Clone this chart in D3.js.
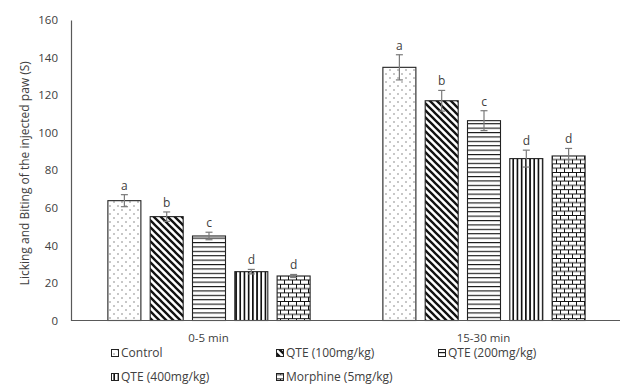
<!DOCTYPE html>
<html>
<head>
<meta charset="utf-8">
<script src="https://cdn.jsdelivr.net/npm/d3@7"></script>
<style>
  body { margin: 0; background: #fff; }
  svg text { font-family: "Open Sans", "Liberation Sans", Arial, sans-serif; fill: #404040; }
</style>
</head>
<body>
<svg id="chart" width="620" height="388"></svg>
<script>
// Time windows and treatments
const groups = ["0-5 min", "15-30 min"];
const treatments = ["Control", "QTE (100mg/kg)", "QTE (200mg/kg)", "QTE (400mg/kg)", "Morphine (5mg/kg)"];

// Mean licking/biting time (s) and SEM per treatment
const earlyPhase = [63.8, 55.3, 45.0, 26.0, 23.7];
const latePhase = [134.8, 117.0, 106.4, 86.2, 87.6];
const earlyErr = [3.2, 2.5, 2.0, 1.2, 0.8];
const lateErr = [6.7, 5.5, 5.3, 4.5, 4.0];
const earlyLetters = ["a", "b", "c", "d", "d"];
const lateLetters = ["a", "b", "c", "d", "d"];

const yTicks = [0, 20, 40, 60, 80, 100, 120, 140, 160];

const svg = d3.select("#chart");
const plotL = 71, plotR = 621, plotT = 20, plotB = 320.5;
const fontFamily = "'Open Sans', 'Liberation Sans', Arial, sans-serif";

// Fill patterns for each treatment
const defs = svg.append("defs");
const ink = "#111";

const pDots = defs.append("pattern").attr("id", "p0").attr("patternUnits", "userSpaceOnUse")
  .attr("width", 8).attr("height", 8);
pDots.append("rect").attr("width", 8).attr("height", 8).attr("fill", "#fff");
pDots.append("rect").attr("x", 1.5).attr("y", 1.5).attr("width", 1).attr("height", 1).attr("fill", "#222");
pDots.append("rect").attr("x", 5.5).attr("y", 5.5).attr("width", 1).attr("height", 1).attr("fill", "#222");

const pDiag = defs.append("pattern").attr("id", "p1").attr("patternUnits", "userSpaceOnUse")
  .attr("width", 7).attr("height", 7);
pDiag.append("rect").attr("width", 7).attr("height", 7).attr("fill", "#fff");
pDiag.append("path").attr("d", "M0,0L7,7M-2,5L2,9M5,-2L9,2")
  .attr("stroke", ink).attr("stroke-width", 2.3);

const pHor = defs.append("pattern").attr("id", "p2").attr("patternUnits", "userSpaceOnUse")
  .attr("width", 6).attr("height", 4.4);
pHor.append("rect").attr("width", 6).attr("height", 4.4).attr("fill", "#fff");
pHor.append("rect").attr("x", 0).attr("y", 0).attr("width", 6).attr("height", 1.1).attr("fill", ink);

const pVer = defs.append("pattern").attr("id", "p3").attr("patternUnits", "userSpaceOnUse")
  .attr("width", 4.2).attr("height", 6);
pVer.append("rect").attr("width", 4.2).attr("height", 6).attr("fill", "#fff");
pVer.append("rect").attr("x", 0).attr("y", 0).attr("width", 1.7).attr("height", 6).attr("fill", ink);

const pBrick = defs.append("pattern").attr("id", "p4").attr("patternUnits", "userSpaceOnUse")
  .attr("width", 8).attr("height", 8.6);
pBrick.append("rect").attr("width", 8).attr("height", 8.6).attr("fill", "#fff");
pBrick.append("path").attr("d", "M0,0.5H8M0,4.8H8M0.5,0.5V4.8M4.5,4.8V8.6")
  .attr("stroke", ink).attr("stroke-width", 1);

// Scales
const x0 = d3.scaleBand().domain(groups).range([plotL, plotR]).padding(0);
const x1 = d3.scaleBand().domain(treatments).range([0, x0.bandwidth()])
  .paddingInner(0.22).paddingOuter(0.86);
const y = d3.scaleLinear().domain([0, 160]).range([plotB, plotT]);

// Y axis: labels only plus a vertical line
const yAxis = svg.append("g").attr("transform", `translate(${plotL},0)`)
  .call(d3.axisLeft(y).tickValues(yTicks).tickSize(0).tickPadding(13));
yAxis.select(".domain").attr("stroke", "#595959").attr("stroke-width", 1.2);
yAxis.selectAll("text").style("font-size", "11.5px").attr("fill", "#404040")
  .style("font-family", fontFamily);

svg.append("text")
  .attr("transform", `translate(29,${(plotT + plotB) / 2 + 3}) rotate(-90)`)
  .attr("text-anchor", "middle")
  .style("font-size", "12px")
  .text("Licking and Biting of the injected paw (S)");

// Bars
const rows = [];
groups.forEach((g, gi) => {
  const vals = gi === 0 ? earlyPhase : latePhase;
  const errs = gi === 0 ? earlyErr : lateErr;
  const lets = gi === 0 ? earlyLetters : lateLetters;
  treatments.forEach((t, ti) => rows.push({ g, t, ti, v: vals[ti], e: errs[ti], l: lets[ti] }));
});

const bars = svg.append("g");
bars.selectAll("rect").data(rows).join("rect")
  .attr("x", d => x0(d.g) + x1(d.t) + 0.5)
  .attr("y", d => y(d.v))
  .attr("width", x1.bandwidth())
  .attr("height", d => y(0) - y(d.v))
  .attr("fill", d => `url(#p${d.ti})`)
  .attr("stroke", "#222")
  .attr("stroke-width", 1.1);

// Error bars
const eb = svg.append("g").attr("stroke", "#7a7a7a").attr("stroke-width", 1.2);
rows.forEach(d => {
  const cx = x0(d.g) + x1(d.t) + x1.bandwidth() / 2 + 0.5;
  eb.append("line").attr("x1", cx).attr("x2", cx).attr("y1", y(d.v + d.e)).attr("y2", y(d.v - d.e));
  eb.append("line").attr("x1", cx - 3.5).attr("x2", cx + 3.5).attr("y1", y(d.v + d.e)).attr("y2", y(d.v + d.e));
  eb.append("line").attr("x1", cx - 3.5).attr("x2", cx + 3.5).attr("y1", y(d.v - d.e)).attr("y2", y(d.v - d.e));
});

// Significance letters
svg.append("g").selectAll("text").data(rows).join("text")
  .attr("x", d => x0(d.g) + x1(d.t) + x1.bandwidth() / 2 + 0.5)
  .attr("y", d => y(d.v + d.e) - 5)
  .attr("text-anchor", "middle")
  .style("font-size", "12px")
  .text(d => d.l);

// X axis line and group labels
svg.append("line").attr("x1", plotL).attr("x2", 620).attr("y1", plotB).attr("y2", plotB)
  .attr("stroke", "#595959").attr("stroke-width", 1.2);
svg.append("g").selectAll("text").data(groups).join("text")
  .attr("x", d => x0(d) + x0.bandwidth() / 2)
  .attr("y", 341.5)
  .attr("text-anchor", "middle")
  .style("font-size", "11.5px")
  .text(d => d);

// Legend: swatch position per entry, label follows the swatch
const legendPos = [[111, 357], [276, 357], [438, 357], [111, 381], [276, 381]];
const lg = svg.append("g");
treatments.forEach((t, i) => {
  const [lx, ly] = legendPos[i];
  lg.append("rect").attr("x", lx + 0.5).attr("y", ly - 7.5).attr("width", 7).attr("height", 7)
    .attr("fill", `url(#p${i})`).attr("stroke", "#222").attr("stroke-width", 1);
  lg.append("text").attr("x", lx + 10).attr("y", ly)
    .style("font-size", "12px").text(t);
});
</script>
</body>
</html>
